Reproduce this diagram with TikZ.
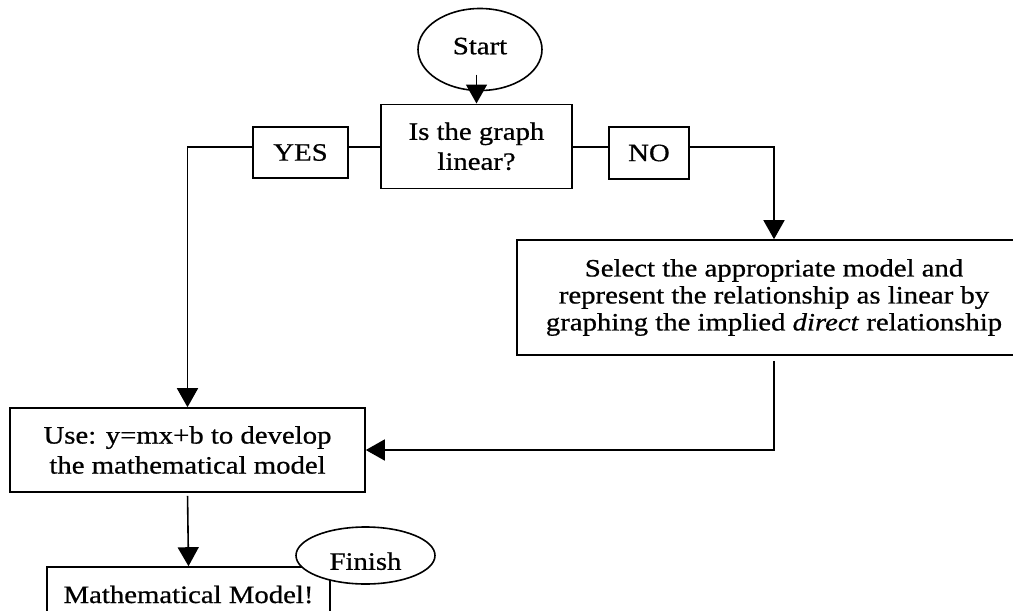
\documentclass[tikz,border=0pt]{standalone}
\usepackage{fontspec}
\setmainfont{Liberation Serif}[FakeStretch=1.15,FakeBold=0.7]
\usetikzlibrary{shapes.geometric,arrows.meta}
\begin{document}
\begin{tikzpicture}[x=1pt,y=-1pt,
  font=\fontsize{25}{30}\selectfont,
  box/.style={draw,line width=1.6pt,rectangle,inner sep=0pt,align=center},
  oval/.style={draw,line width=1.6pt,ellipse,inner sep=0pt,fill=white},
  conn/.style={line width=1.6pt},
  arr/.style={conn,-{Triangle[length=19pt,width=21pt]}}]
\useasboundingbox (0,0) rectangle (1013,611);
\clip (0,0) rectangle (1013,611);
\node[oval,minimum width=124pt,minimum height=82pt,text height=16.5pt,text depth=7pt] (start) at (480,49.5) {Start};
\node[box,minimum width=191pt,minimum height=84pt] (dec) at (476.5,146.3) {Is the graph\\linear?};
\node[box,minimum width=95pt,minimum height=51pt] (yes) at (300.5,152.5) {YES};
\node[box,minimum width=80pt,minimum height=52pt] (no) at (649,153) {NO};
\node[box,minimum width=514pt,minimum height=115pt,font=\fontsize{25}{27}\selectfont] (sel) at (774,297.5) {Select the appropriate model and\\represent the relationship as linear by\\graphing the implied \textit{direct} relationship};
\node[box,minimum width=355pt,minimum height=84pt] (use) at (187.5,450) {Use: y=mx+b to develop\\the mathematical model};
\node[box,anchor=base,minimum width=283pt,text height=17pt,text depth=60pt,inner ysep=19pt] (mm) at (188.5,603) {Mathematical Model!};
\node[oval,minimum width=139pt,minimum height=57pt,text height=28.5pt,text depth=0pt] (fin) at (365.5,555.5) {Finish};
\coordinate (ly) at (0,147);
\coordinate (s0) at ([yshift=29pt]dec.north);
\draw[arr] (s0) -- (dec.north);
\draw[conn] (yes.east |- ly) -- (dec.west |- ly);
\draw[arr] (yes.west |- ly) -| (use.north);
\draw[conn] (dec.east |- ly) -- (no.west |- ly);
\draw[arr] (no.east |- ly) -| (sel.north);
\draw[arr,shorten <=5pt] (sel.south) |- (use.east);
\draw[arr,shorten <=3pt] (use.south) -- (mm.north);
\end{tikzpicture}
\end{document}
